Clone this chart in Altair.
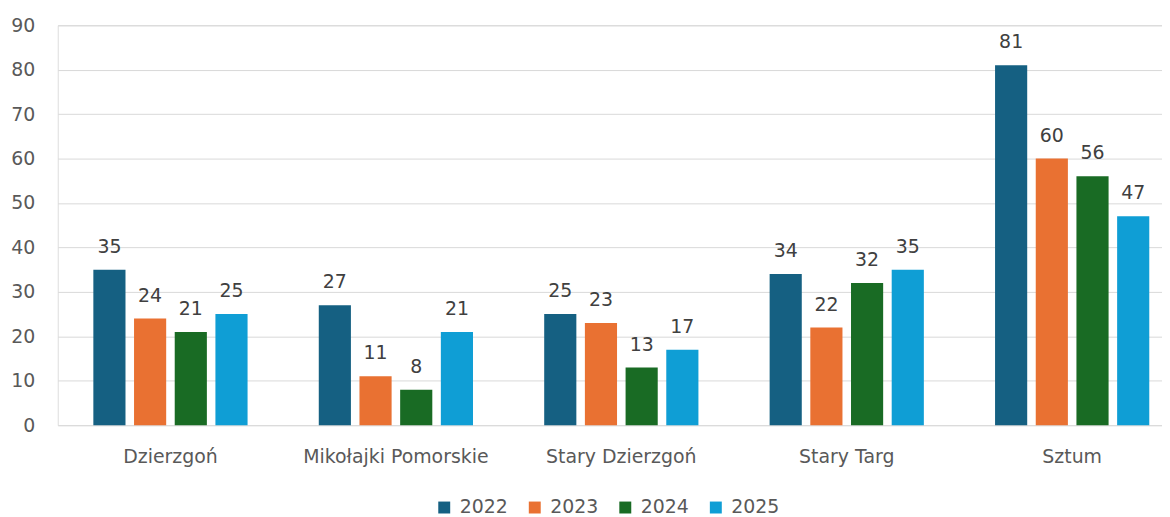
import altair as alt
import pandas as pd

categories = ["Dzierzgoń", "Mikołajki Pomorskie", "Stary Dzierzgoń", "Stary Targ", "Sztum"]
years = ["2022", "2023", "2024", "2025"]
v2022 = [35, 27, 25, 34, 81]
v2023 = [24, 11, 23, 22, 60]
v2024 = [21, 8, 13, 32, 56]
v2025 = [25, 21, 17, 35, 47]
colors = ["#156082", "#E97132", "#196B24", "#0F9ED5"]

rows = []
for yr, vals in zip(years, [v2022, v2023, v2024, v2025]):
    for c, v in zip(categories, vals):
        rows.append({"category": c, "year": yr, "value": v})
df = pd.DataFrame(rows)

FONT = "DejaVu Sans"
FS = 19

x = alt.X("category:N", sort=categories, title=None,
          scale=alt.Scale(range=[0, 1133], paddingInner=0, paddingOuter=0),
          axis=alt.Axis(labelAngle=0, domain=False, ticks=False, labelPadding=22,
                        labelLimit=0, labelFontSize=FS, labelColor="#595959",
                        labelFont=FONT))
xo = alt.XOffset("year:N", sort=years, scale=alt.Scale(paddingInner=0.21, paddingOuter=0.875))
y = alt.Y("value:Q", title=None,
          scale=alt.Scale(domain=[0, 90], nice=False),
          axis=alt.Axis(values=list(range(0, 91, 10)), domain=False, ticks=False,
                        labelPadding=23, labelFontSize=FS, labelColor="#595959",
                        labelFont=FONT, gridColor="#d9d9d9", gridWidth=1))

bars = alt.Chart(df).mark_bar().encode(
    x=x, xOffset=xo, y=y,
    color=alt.Color("year:N", sort=years,
                    scale=alt.Scale(domain=years, range=colors),
                    legend=alt.Legend(title=None, orient="none", direction="horizontal",
                                      legendX=379, legendY=475,
                                      symbolType="square", symbolSize=144,
                                      symbolStrokeWidth=0, labelFontSize=FS,
                                      labelColor="#595959", labelFont=FONT,
                                      columnPadding=17, labelOffset=6))
)

labels = alt.Chart(df).mark_text(dy=-17, baseline="alphabetic", fontSize=FS,
                                 color="#404040", font=FONT).encode(
    x=x, xOffset=xo, y=y, text="value:Q"
)

chart = (bars + labels).properties(
    width=1110, height=402,
    autosize=alt.AutoSizeParams(type="none"),
    padding={"left": 50, "top": 16, "right": 0, "bottom": 110},
).configure_view(stroke=None).configure(background="white")

chart.save("out.html", embed_options={"renderer": "svg", "actions": False})
